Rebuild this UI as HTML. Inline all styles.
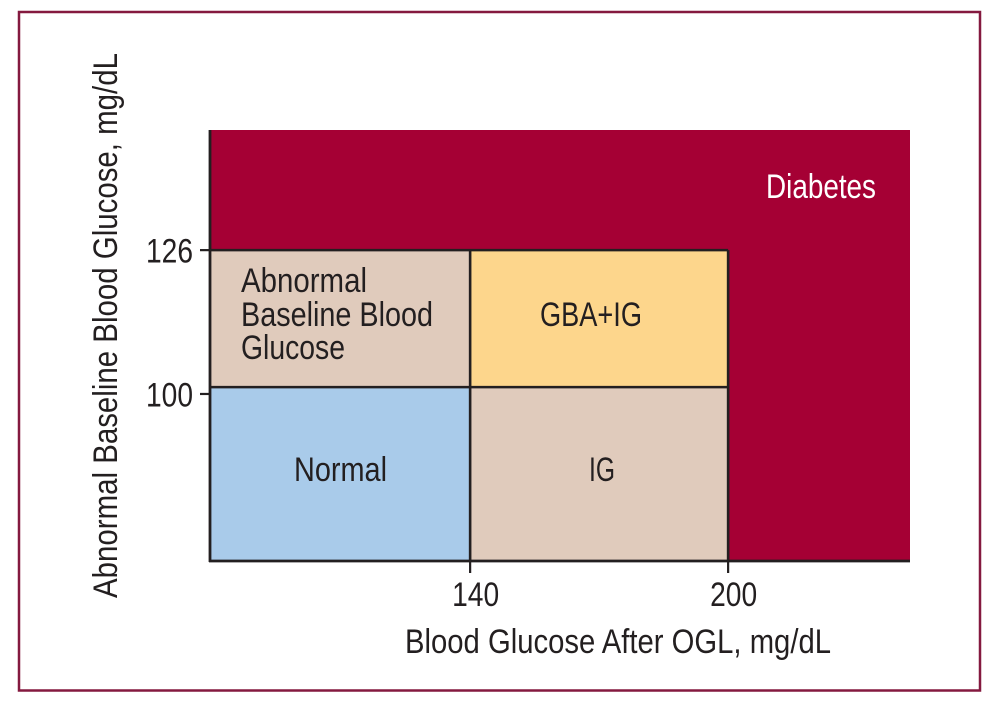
<!DOCTYPE html>
<html lang="en">
<head>
<meta charset="utf-8">
<title>Glucose categories chart</title>
<style>
html,body{margin:0;padding:0;background:#fff;width:1004px;height:704px;overflow:hidden}
svg{display:block}
text{font-family:"Liberation Sans Narrow","Liberation Sans",sans-serif;font-size:34px;fill:#231f20}
</style>
</head>
<body>
<svg id="chart" width="1004" height="704" viewBox="0 0 1004 704">
  <rect x="19" y="12" width="961" height="678.5" fill="#fff" stroke="#84193f" stroke-width="2.5"/>
  <g id="zones"></g>
  <g id="lines"></g>
  <g id="ticks"></g>
  <text x="766" y="198" textLength="110" lengthAdjust="spacingAndGlyphs" style="fill:#fff">Diabetes</text>
  <text x="241" y="292" textLength="126" lengthAdjust="spacingAndGlyphs">Abnormal</text>
  <text x="241" y="326" textLength="192" lengthAdjust="spacingAndGlyphs">Baseline Blood</text>
  <text x="241" y="359" textLength="104" lengthAdjust="spacingAndGlyphs">Glucose</text>
  <text x="540" y="326" textLength="102" lengthAdjust="spacingAndGlyphs">GBA+IG</text>
  <text x="294" y="481" textLength="93" lengthAdjust="spacingAndGlyphs">Normal</text>
  <text x="589" y="481" textLength="26" lengthAdjust="spacingAndGlyphs">IG</text>
  <text x="405" y="653" textLength="426" lengthAdjust="spacingAndGlyphs">Blood Glucose After OGL, mg/dL</text>
  <text transform="translate(117 598) rotate(-90)" textLength="545" lengthAdjust="spacingAndGlyphs">Abnormal Baseline Blood Glucose, mg/dL</text>
</svg>
<script>
// Axis data (mg/dL)
var xDomain = [79.5, 242.3];
var yDomain = [67, 148.8];
var xBreaks = [140, 200];
var yBreaks = [126, 100];
var xTickValues = [140, 200];
var xTickLabels = ["140", "200"];
var yTickValues = [126, 98.7];
var yTickLabels = ["126", "100"];
// Category zones: [xFrom, xTo, yFrom, yTo]
var zoneNames = ["diabetes", "abnormal-baseline", "gba-ig", "normal", "ig"];
var zoneX0 = [79.5, 79.5, 140, 79.5, 140];
var zoneX1 = [242.3, 140, 200, 140, 200];
var zoneY0 = [67, 100, 100, 67, 67];
var zoneY1 = [148.8, 126, 126, 100, 100];
var zoneColors = ["#a50034", "#e0cbbc", "#fdd68c", "#a9cbea", "#e0cbbc"];

var PLOT = {left: 210, right: 910, top: 130, bottom: 561};
function xScale(v) {
  return PLOT.left + (v - xDomain[0]) / (xDomain[1] - xDomain[0]) * (PLOT.right - PLOT.left);
}
function yScale(v) {
  return PLOT.bottom - (v - yDomain[0]) / (yDomain[1] - yDomain[0]) * (PLOT.bottom - PLOT.top);
}
var NS = "http://www.w3.org/2000/svg";
function make(tag, parent, attrs) {
  var el = document.createElementNS(NS, tag);
  for (var k in attrs) el.setAttribute(k, attrs[k]);
  parent.appendChild(el);
  return el;
}
var zones = document.getElementById("zones");
var lines = document.getElementById("lines");
var ticks = document.getElementById("ticks");
var INK = "#231f20";

zoneNames.forEach(function (name, i) {
  var x = xScale(zoneX0[i]), x2 = xScale(zoneX1[i]);
  var y = yScale(zoneY1[i]), y2 = yScale(zoneY0[i]);
  var r = make("rect", zones, {x: x, y: y, width: x2 - x, height: y2 - y, fill: zoneColors[i]});
  
  
});

function line(parent, x1, y1, x2, y2, w) {
  return make("line", parent, {x1: x1, y1: y1, x2: x2, y2: y2, stroke: INK, "stroke-width": w});
}
var yAxis = line(lines, PLOT.left, PLOT.top, PLOT.left, PLOT.bottom + 1, 2.8);


var xAxis = line(lines, PLOT.left - 1, PLOT.bottom, PLOT.right, PLOT.bottom, 2.8);



xBreaks.forEach(function (v) {
  var l = line(lines, xScale(v), yScale(126), xScale(v), PLOT.bottom, 2.6);
  
  
});
yBreaks.forEach(function (v) {
  var l = line(lines, PLOT.left, yScale(v), xScale(200), yScale(v), 2.6);
  
  
});

xTickValues.forEach(function (v, i) {
  var t = line(ticks, xScale(v), PLOT.bottom, xScale(v), PLOT.bottom + 12, 2.2);
  
  
  var lab = make("text", ticks, {x: xScale(v) + 5.5, y: 606, "text-anchor": "middle", textLength: 47, lengthAdjust: "spacingAndGlyphs"});
  lab.textContent = xTickLabels[i];
  
  
});
yTickValues.forEach(function (v, i) {
  var t = line(ticks, PLOT.left - 10, yScale(v), PLOT.left, yScale(v), 2.2);
  
  
  var lab = make("text", ticks, {x: PLOT.left - 17, y: yScale(v) + 12.5, "text-anchor": "end", textLength: 47, lengthAdjust: "spacingAndGlyphs"});
  lab.textContent = yTickLabels[i];
  
  
});
</script>
</body>
</html>
